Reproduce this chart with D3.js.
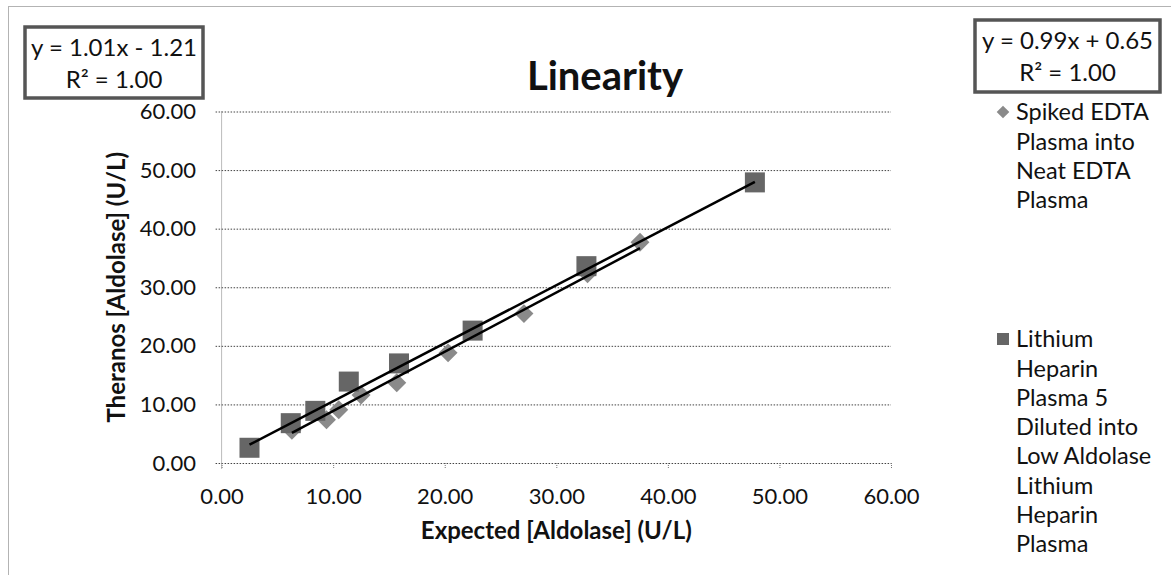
<!DOCTYPE html>
<html>
<head>
<meta charset="utf-8">
<script src="https://cdn.jsdelivr.net/npm/d3@7"></script>
<style>
  body { margin: 0; background: #fff; }
  svg text { font-family: Lato, "Open Sans", sans-serif; fill: #111; }
</style>
</head>
<body>
<svg id="canvas"></svg>
<script>
// values
let squareX = [2.5, 6.2, 8.4, 11.4, 15.9, 22.5, 32.7, 47.8];
let squareY = [2.6, 6.8, 8.9, 13.9, 17.0, 22.6, 33.6, 47.9];
let diamondX = [6.3, 9.4, 10.5, 12.5, 15.7, 20.3, 27.1, 32.8, 37.5];
let diamondY = [5.6, 7.4, 9.1, 11.6, 13.7, 18.8, 25.5, 32.3, 37.7];

let ticks = [0, 10, 20, 30, 40, 50, 60];

// trendline fits as printed on the chart
let fitDiamond = { slope: 1.01, intercept: -1.21 };
let fitSquare = { slope: 0.99, intercept: 0.65 };
let eqDiamond = ["y = 1.01x - 1.21", "R² = 1.00"];
let eqSquare = ["y = 0.99x + 0.65", "R² = 1.00"];

let legendDiamond = ["Spiked EDTA", "Plasma into", "Neat EDTA", "Plasma"];
let legendSquare = ["Lithium", "Heparin", "Plasma 5", "Diluted into", "Low Aldolase", "Lithium", "Heparin", "Plasma"];

let width = 1171;
let height = 575;

let plotLeft = 221.6, plotRight = 891, plotTop = 111.5, plotBottom = 463;

let canvas = d3.select("#canvas").attr("width", width).attr("height", height);

let xScale = d3.scaleLinear().domain([0, 60]).range([plotLeft, plotRight]);
let yScale = d3.scaleLinear().domain([0, 60]).range([plotBottom, plotTop]);
let fmt = d3.format(".2f");

// chart frame
canvas.append("rect")
  .attr("x", 8.5).attr("y", 6.5)
  .attr("width", 1300).attr("height", 700)
  .attr("fill", "none").attr("stroke", "#666")
  .attr("stroke-dasharray", "1,1");

// y gridlines + labels
let yAxis = d3.axisLeft(yScale).tickValues(ticks).tickFormat(fmt)
  .tickSize(-(plotRight - plotLeft + 6)).tickPadding(19.6);
canvas.append("g")
  .attr("transform", "translate(" + (plotLeft - 6) + ",0)")
  .call(yAxis)
  .call(g => g.select(".domain").remove())
  .call(g => g.selectAll("line").attr("stroke", "#444").attr("stroke-dasharray", "1.5,1.5"))
  .call(g => g.selectAll("text").attr("font-size", 22).attr("fill", "#111"));

// x axis
let xAxis = d3.axisBottom(xScale).tickValues(ticks).tickFormat(fmt)
  .tickSize(6).tickPadding(19);
canvas.append("g")
  .attr("transform", "translate(0," + plotBottom + ")")
  .call(xAxis)
  .call(g => g.select(".domain").remove())
  .call(g => g.selectAll("line").attr("stroke", "#777").attr("stroke-dasharray", "1,1"))
  .call(g => g.selectAll("text").attr("font-size", 22).attr("fill", "#111"));

// y axis line
canvas.append("line")
  .attr("x1", plotLeft).attr("x2", plotLeft)
  .attr("y1", plotTop).attr("y2", plotBottom + 6)
  .attr("stroke", "#777").attr("stroke-dasharray", "1,1");

// markers
let squares = squareX.map((x, i) => ({ x: x, y: squareY[i] }));
let diamonds = diamondX.map((x, i) => ({ x: x, y: diamondY[i] }));

canvas.append("g").selectAll("path")
  .data(diamonds)
  .enter()
  .append("path")
  .attr("d", d3.symbol().type(d3.symbolSquare).size(180))
  .attr("transform", d => "translate(" + xScale(d.x) + "," + yScale(d.y) + ") rotate(45)")
  .attr("fill", "#8a8a8a");

canvas.append("g").selectAll("rect")
  .data(squares)
  .enter()
  .append("rect")
  .attr("x", d => xScale(d.x) - 10)
  .attr("y", d => yScale(d.y) - 10)
  .attr("width", 20).attr("height", 20)
  .attr("fill", "#666");

// trendlines
let drawFit = (fit, xs) => {
  let x0 = d3.min(xs), x1 = d3.max(xs);
  canvas.append("line")
    .attr("x1", xScale(x0)).attr("y1", yScale(fit.slope * x0 + fit.intercept))
    .attr("x2", xScale(x1)).attr("y2", yScale(fit.slope * x1 + fit.intercept))
    .attr("stroke", "#000").attr("stroke-width", 2.5);
};
drawFit(fitDiamond, diamondX);
drawFit(fitSquare, squareX);

// title and axis titles
canvas.append("text")
  .attr("x", 605).attr("y", 90)
  .attr("text-anchor", "middle")
  .attr("font-size", 40).attr("font-weight", "bold")
  .text("Linearity");

canvas.append("text")
  .attr("x", (plotLeft + plotRight) / 2).attr("y", 539)
  .attr("text-anchor", "middle")
  .attr("font-size", 24).attr("font-weight", "bold")
  .text("Expected [Aldolase] (U/L)");

canvas.append("text")
  .attr("transform", "translate(125," + (plotTop + plotBottom) / 2 + ") rotate(-90)")
  .attr("text-anchor", "middle")
  .attr("font-size", 24).attr("font-weight", "bold")
  .text("Theranos [Aldolase] (U/L)");

// equation boxes
let drawEq = (lines, x, y, w, h) => {
  canvas.append("rect")
    .attr("x", x).attr("y", y).attr("width", w).attr("height", h)
    .attr("fill", "#fff").attr("stroke", "#555").attr("stroke-width", 3.5);
  lines.forEach((t, i) => {
    canvas.append("text")
      .attr("x", x + w / 2).attr("y", y + 21 + i * 32)
      .attr("dy", "0.35em")
      .attr("text-anchor", "middle")
      .attr("font-size", 24)
      .text(t);
  });
};
drawEq(eqDiamond, 25, 27, 178, 71);
drawEq(eqSquare, 975, 20, 185, 72);

// legend
let legendText = (lines, y0) => {
  lines.forEach((t, i) => {
    canvas.append("text")
      .attr("x", 1016).attr("y", y0 + i * 29.3)
      .attr("dy", "0.35em")
      .attr("font-size", 23.5)
      .text(t);
  });
};
canvas.append("path")
  .attr("d", d3.symbol().type(d3.symbolSquare).size(80))
  .attr("transform", "translate(1003,112) rotate(45)")
  .attr("fill", "#8a8a8a");
legendText(legendDiamond, 112);

canvas.append("rect")
  .attr("x", 997).attr("y", 333).attr("width", 12).attr("height", 12)
  .attr("fill", "#666");
legendText(legendSquare, 339);
</script>
</body>
</html>
